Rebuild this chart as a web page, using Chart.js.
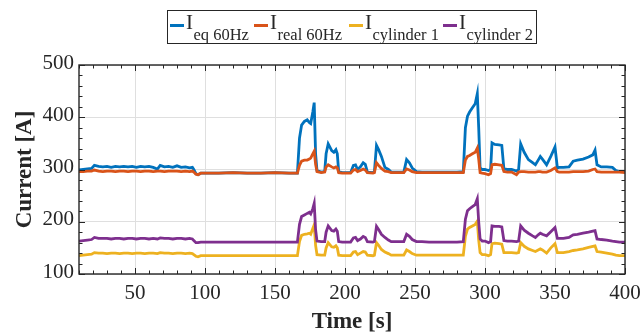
<!DOCTYPE html>
<html>
<head>
<meta charset="utf-8">
<title>Current vs time</title>
<script src="https://cdn.jsdelivr.net/npm/chart.js@4.4.0/dist/chart.umd.min.js"></script>
<style>
    html, body { margin: 0; padding: 0; background: #fff; }
    #chart { display: block; }
</style>
</head>
<body>
<canvas id="chart" width="640" height="334"></canvas>
<script>
// ============ DATA ============
const timeS = [
    10, 13, 16, 19, 21, 24, 27, 30, 33, 36, 39, 42, 45, 48, 51, 54, 57, 60, 63, 66, 68, 71, 74, 77, 80, 83, 86, 89, 91,
    92, 93.5, 95, 97, 100, 110, 120, 130, 140, 150, 160, 166,
    167.5, 169, 171, 173, 174.5, 175.5, 177, 178, 179, 180, 183, 185.5, 186.5, 188, 190.5, 192, 193.5, 194.5, 195.5, 198,
    204, 206, 207.5, 209, 211, 213, 214.5, 216, 220,
    221, 222.5, 224, 226, 228.5, 231, 233,
    242, 244, 246, 248, 251, 255, 260, 270, 280,
    284.5, 286, 287.5, 289, 291, 293, 294.5, 295.5, 296.5, 298,
    300, 302.5, 304, 305, 307, 310, 312, 313.5, 316, 319, 322.5, 324,
    325.5, 328, 331, 334, 336, 338, 339.5, 341, 344, 347, 350, 351.7, 353,
    356, 360, 363, 366, 370, 374, 377, 378.6, 380, 383, 387, 391, 393.5, 396, 400
];

const iEq60 = [
    299, 300, 301, 302, 308, 306, 305, 306, 304, 306, 305, 306, 305, 306, 304, 306, 305, 306, 304, 301, 308, 305, 306, 304, 307, 304, 305, 303, 304,
    300, 292, 290, 293, 293, 293, 294, 293, 293, 294, 293, 293,
    360, 385, 392, 395, 390, 388, 410, 428, 330, 298, 295, 296, 330, 349, 336, 333, 338, 330, 296, 294,
    294, 308, 309, 300, 305, 313, 310, 295, 294,
    296, 346, 338, 325, 304, 300, 295,
    295, 319, 313, 303, 296, 295, 295, 295, 295,
    296, 380, 402, 410, 418, 426, 445, 380, 303, 300,
    300, 298, 300, 351, 348, 347, 346, 301, 300, 300, 297, 300,
    349, 333, 319, 313, 309, 318, 325, 320, 309, 325, 343, 303, 304,
    304, 305, 316, 318, 320, 324, 328, 337, 309, 305, 305, 304, 298, 296, 296
];

const iReal60 = [
    296, 296, 297, 297, 299, 297, 296, 297, 297, 296, 297, 297, 296, 297, 297, 296, 297, 297, 296, 297, 297, 296, 297, 297, 297, 296, 297, 296, 297,
    295, 291, 290, 293, 293, 293, 294, 293, 293, 294, 293, 293,
    308, 316, 318, 318, 320, 322, 330, 335, 310, 296, 294, 295, 305, 309, 305, 303, 305, 303, 294, 293,
    293, 299, 300, 296, 298, 301, 299, 294, 293,
    294, 313, 308, 302, 297, 296, 294,
    294, 301, 299, 296, 294, 294, 294, 294, 294,
    294, 318, 325, 327, 330, 333, 341, 320, 294, 293,
    292, 290, 292, 309, 310, 309, 308, 296, 295, 295, 290, 295,
    296, 296, 295, 295, 295, 296, 296, 295, 295, 298, 303, 296, 295,
    295, 295, 296, 296, 296, 297, 300, 301, 296, 295, 295, 295, 295, 295, 294
];

const iCyl1 = [
    135, 136, 137, 138, 141, 140, 140, 139, 140, 140, 139, 140, 140, 139, 140, 140, 139, 140, 140, 139, 141, 140, 140, 139, 140, 140, 139, 140, 139,
    137, 134, 133, 135, 135, 135, 135, 135, 135, 135, 135, 135,
    162, 174, 176, 177, 178, 176, 187, 194, 155, 137, 136, 136, 150, 160, 152, 151, 154, 150, 136, 135,
    135, 142, 143, 137, 140, 143, 142, 136, 135,
    136, 160, 155, 147, 142, 139, 136,
    136, 146, 143, 139, 136, 136, 136, 136, 136,
    136, 172, 186, 189, 192, 195, 201, 165, 141, 137,
    137, 135, 137, 158, 159, 158, 157, 141, 141, 141, 140, 141,
    160, 153, 148, 145, 143, 146, 148, 146, 140, 150, 158, 141, 141,
    141, 143, 145, 146, 148, 151, 153, 154, 143, 142, 140, 138, 136, 135, 135
];

const iCyl2 = [
    163, 164, 165, 166, 170, 168, 168, 168, 167, 168, 168, 167, 168, 168, 167, 168, 168, 167, 168, 167, 169, 168, 168, 167, 168, 168, 167, 168, 167,
    164, 160, 160, 161, 161, 161, 161, 161, 161, 161, 161, 161,
    195, 210, 213, 216, 218, 215, 225, 235, 185, 163, 162, 162, 180, 192, 183, 182, 186, 182, 162, 161,
    161, 169, 170, 164, 167, 172, 170, 162, 161,
    162, 191, 185, 176, 170, 165, 162,
    162, 176, 172, 166, 162, 162, 161, 161, 161,
    162, 205, 221, 225, 229, 233, 244, 200, 167, 163,
    163, 160, 162, 192, 191, 191, 190, 164, 163, 163, 162, 163,
    192, 184, 178, 173, 170, 175, 178, 176, 173, 181, 189, 168, 168,
    168, 170, 175, 176, 178, 180, 182, 183, 167, 166, 165, 163, 162, 161, 161
];

const xTicks = [50, 100, 150, 200, 250, 300, 350, 400];
const yTicks = [100, 200, 300, 400, 500];
const seriesSubs = ['eq 60Hz', 'real 60Hz', 'cylinder 1', 'cylinder 2'];

// ============ STYLE ============
const COLORS = ['#0072BD', '#D95319', '#EDB120', '#7E2F8E'];
const INK = '#262626';
const SERIF = "'Liberation Serif', 'DejaVu Serif', serif";

function toPoints(values) {
    return timeS.map((t, i) => ({ x: t, y: values[i] }));
}

// ============ PLUGINS ============
// MATLAB-like box with inward ticks on all four sides
const boxAxes = {
    id: 'boxAxes',
    afterDatasetsDraw(chart) {
        const { ctx, chartArea: a, scales: { x, y } } = chart;
        ctx.save();
        ctx.strokeStyle = INK;
        ctx.lineWidth = 1;
        ctx.beginPath();
        for (let v = x.min; v <= x.max; v += 10) {
            const px = Math.round(x.getPixelForValue(v)) + 0.5;
            const len = v % 50 === 0 ? 6 : 3.5;
            ctx.moveTo(px, a.bottom); ctx.lineTo(px, a.bottom - len);
            ctx.moveTo(px, a.top); ctx.lineTo(px, a.top + len);
        }
        for (let v = y.min; v <= y.max; v += 20) {
            const py = Math.round(y.getPixelForValue(v)) + 0.5;
            const len = v % 100 === 0 ? 6 : 3.5;
            ctx.moveTo(a.left, py); ctx.lineTo(a.left + len, py);
            ctx.moveTo(a.right, py); ctx.lineTo(a.right - len, py);
        }
        ctx.stroke();
        ctx.lineWidth = 1.4;
        ctx.strokeRect(a.left, a.top, a.right - a.left, a.bottom - a.top);
        ctx.restore();
    }
};

// legend with subscripts, boxed, above the axes
const subLegend = {
    id: 'subLegend',
    afterDraw(chart) {
        const { ctx } = chart;
        const starts = [170, 254, 349, 443];
        ctx.save();
        ctx.fillStyle = '#fff';
        ctx.fillRect(167, 10, 370, 34);
        ctx.strokeStyle = INK;
        ctx.lineWidth = 1;
        ctx.strokeRect(167.5, 10.5, 369, 33);
        ctx.fillStyle = INK;
        ctx.textBaseline = 'alphabetic';
        seriesSubs.forEach((sub, i) => {
            let px = starts[i];
            ctx.strokeStyle = COLORS[i];
            ctx.lineWidth = 3;
            ctx.beginPath();
            ctx.moveTo(px, 25.5);
            ctx.lineTo(px + 14, 25.5);
            ctx.stroke();
            px += 16;
            ctx.font = '21px ' + SERIF;
            ctx.fillText('I', px, 29);
            px += ctx.measureText('I').width + 0.5;
            ctx.font = '16.5px ' + SERIF;
            ctx.fillText(sub, px, 40);
        });
        ctx.restore();
    }
};

// ============ CHART ============
const ctx = document.getElementById('chart').getContext('2d');

new Chart(ctx, {
    type: 'line',
    data: {
        datasets: [iEq60, iReal60, iCyl1, iCyl2].map((vals, i) => ({
            label: 'I ' + seriesSubs[i],
            data: toPoints(vals),
            borderColor: COLORS[i],
            backgroundColor: COLORS[i],
            borderWidth: 2.8,
            pointRadius: 0,
            tension: 0,
            order: 4 - i
        }))
    },
    options: {
        responsive: false,
        animation: false,
        devicePixelRatio: 1,
        layout: { padding: { left: 0, top: 65, right: 15, bottom: 0 } },
        plugins: {
            legend: { display: false },
            tooltip: { enabled: false }
        },
        scales: {
            x: {
                type: 'linear',
                min: 10,
                max: 400,
                afterBuildTicks: s => { s.ticks = xTicks.map(v => ({ value: v })); },
                afterFit: s => {
                    s.height = 60;
                    s.paddingLeft = 0;
                    s.paddingRight = 0;
                },
                grid: { color: '#dfdfdf', lineWidth: 1, drawTicks: false },
                border: { display: false },
                ticks: {
                    color: INK,
                    padding: 7,
                    maxRotation: 0,
                    font: { family: SERIF, size: 21 }
                },
                title: {
                    display: true,
                    text: 'Time [s]',
                    color: INK,
                    padding: { top: 0, bottom: -2 },
                    font: { family: SERIF, size: 23, weight: 'bold' }
                }
            },
            y: {
                min: 100,
                max: 500,
                afterBuildTicks: s => { s.ticks = yTicks.map(v => ({ value: v })); },
                afterFit: s => {
                    s.width = 79;
                    s.paddingTop = 0;
                    s.paddingBottom = 0;
                },
                grid: { color: '#dfdfdf', lineWidth: 1, drawTicks: false },
                border: { display: false },
                ticks: {
                    color: INK,
                    padding: 5,
                    labelOffset: -2,
                    font: { family: SERIF, size: 21 }
                },
                title: {
                    display: true,
                    text: 'Current [A]',
                    color: INK,
                    padding: { top: 11, bottom: 0 },
                    font: { family: SERIF, size: 23, weight: 'bold' }
                }
            }
        }
    },
    plugins: [boxAxes, subLegend]
});
</script>
</body>
</html>
